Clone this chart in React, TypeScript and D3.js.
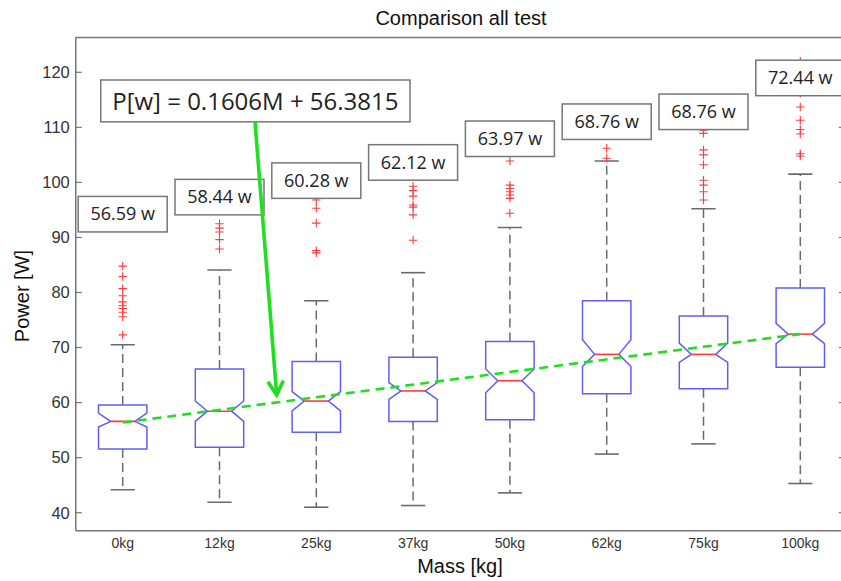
import React from 'react';
import * as d3 from 'd3';

// ---------- data ----------
const categories = ['0kg', '12kg', '25kg', '37kg', '50kg', '62kg', '75kg', '100kg'];
const masses = [0, 12, 25, 37, 50, 62, 75, 100];
const medians = [56.59, 58.44, 60.28, 62.12, 63.97, 68.76, 68.76, 72.44];
const q1 = [51.56, 51.9, 54.6, 56.57, 56.9, 61.6, 62.5, 66.4];
const q3 = [59.55, 66.1, 67.46, 68.25, 71.1, 78.5, 75.75, 80.8];
const notchLo = [55.55, 56.6, 58.5, 60.6, 61.8, 66.55, 67.3, 70.7];
const notchHi = [58.1, 60.3, 62.0, 63.65, 66.1, 71.4, 70.8, 74.4];
const whiskerLo = [44.17, 41.9, 41.0, 41.3, 43.6, 50.65, 52.5, 45.3];
const whiskerHi = [70.5, 84.1, 78.5, 83.6, 91.8, 103.9, 95.2, 101.5];
const outliers0 = [84.8, 82.9, 80.7, 79.4, 78.3, 77.6, 77.1, 76.4, 75.6, 72.3];
const outliers12 = [92.5, 91.7, 91.0, 89.6, 87.9];
const outliers25 = [97.6, 96.8, 95.3, 92.6, 87.6, 87.2];
const outliers37 = [99.3, 98.5, 97.5, 95.9, 95.5, 94.1, 89.5];
const outliers50 = [103.9, 99.5, 98.9, 98.3, 97.7, 97.1, 94.4];
const outliers62 = [106.2, 104.4];
const outliers75 = [109.5, 108.9, 105.9, 105.0, 103.2, 100.4, 99.5, 98.3, 96.8];
const outliers100 = [122.0, 116.2, 113.7, 111.3, 109.6, 108.8, 105.2, 104.8];
const outliers = [outliers0, outliers12, outliers25, outliers37, outliers50, outliers62, outliers75, outliers100];
const labelTexts = ['56.59 w', '58.44 w', '60.28 w', '62.12 w', '63.97 w', '68.76 w', '68.76 w', '72.44 w'];
const fitSlope = 0.1606;
const fitIntercept = 56.3815;
const equationText = 'P[w] = 0.1606M + 56.3815';
const yTicks = [40, 50, 60, 70, 80, 90, 100, 110, 120];

// ---------- annotation placement (data units) ----------
const labelBottom = [91.0, 94.1, 97.1, 100.4, 104.7, 107.8, 109.6, 115.75];
const eqBox = { x0: 0.773, x1: 3.968, y0: 111.0, y1: 118.6 };
const arrow = { x0: 2.367, y0: 111.0, x1: 2.591, y1: 61.38 };

const W = 841;
const H = 581;
const xlim = [0.515, 8.46];
const ylim = [36.7, 126.3];

export default function App() {
  const x = d3.scaleLinear().domain([1, 8]).range([122.7, 800.3]);
  const y = d3.scaleLinear().domain([40, 120]).range([512.7, 72.3]);
  const left = x(xlim[0]);
  const right = x(xlim[1]);
  const top = y(ylim[1]);
  const bottom = y(ylim[0]);
  const halfW = (x(1.25) - x(1));
  const innerW = halfW / 2;
  const capW = halfW / 2;

  const boxBlue = '#5f5ff2';
  const red = '#ff3b3b';
  const gray = '#6a6a6a';
  const green = '#1fe01f';
  const sans = '"Liberation Sans", Arial, sans-serif';
  const labelFont = '"Open Sans", "DejaVu Sans", sans-serif';

  const boxes = categories.map((c, i) => {
    const cx = x(i + 1);
    const l = cx - halfW;
    const r = cx + halfW;
    const pts: [number, number][] = [
      [l, y(q3[i])], [r, y(q3[i])], [r, y(notchHi[i])], [cx + innerW, y(medians[i])],
      [r, y(notchLo[i])], [r, y(q1[i])], [l, y(q1[i])], [l, y(notchLo[i])],
      [cx - innerW, y(medians[i])], [l, y(notchHi[i])],
    ];
    const path = d3.line()(pts) + 'Z';
    return { cx, path, i };
  });

  // arrow geometry
  const ax0 = x(arrow.x0), ay0 = y(arrow.y0), ax1 = x(arrow.x1), ay1 = y(arrow.y1);
  const ang = Math.atan2(ay1 - ay0, ax1 - ax0);
  const headLen = 16;
  const headAng = Math.PI / 6.2;
  const hA: [number, number] = [ax1 - headLen * Math.cos(ang - headAng), ay1 - headLen * Math.sin(ang - headAng)];
  const hB: [number, number] = [ax1 - headLen * Math.cos(ang + headAng), ay1 - headLen * Math.sin(ang + headAng)];

  const plus = 4.2;

  return (
    <svg width={W} height={H} style={{ position: 'absolute', left: 0, top: 0, background: '#fff' }}>
      <rect x={0} y={0} width={W} height={H} fill="#fff" />
      <clipPath id="plotclip">
        <rect x={left} y={top} width={right - left} height={bottom - top} />
      </clipPath>

      {/* title */}
      <text x={461} y={25} textAnchor="middle" fontFamily={sans} fontSize={20} fill="#111">Comparison all test</text>

      {/* axes frame */}
      <line x1={left} x2={left} y1={top} y2={bottom} stroke="#777" strokeWidth={1.5} />
      <line x1={left} x2={right} y1={bottom} y2={bottom} stroke="#777" strokeWidth={1.5} />
      <line x1={left} x2={right} y1={top} y2={top} stroke="#777" strokeWidth={1.5} />
      <line x1={right} x2={right} y1={top} y2={bottom} stroke="#777" strokeWidth={1.5} />

      {yTicks.map(t => (
        <g key={t}>
          <line x1={left} x2={left + 6} y1={y(t)} y2={y(t)} stroke="#777" strokeWidth={1.2} />
          <line x1={right - 6} x2={right} y1={y(t)} y2={y(t)} stroke="#777" strokeWidth={1.2} />
          <text x={left - 6} y={y(t) + 5.8} textAnchor="end" fontFamily={sans} fontSize={16.5} fill="#333">{t}</text>
        </g>
      ))}

      {categories.map((c, i) => (
        <text key={c} x={x(i + 1)} y={548} textAnchor="middle" fontFamily={sans} fontSize={14} fill="#333">{c}</text>
      ))}

      <text x={460} y={573} textAnchor="middle" fontFamily={sans} fontSize={20} fill="#111">Mass [kg]</text>
      <text transform={`translate(29,296) rotate(-90)`} textAnchor="middle" fontFamily={sans} fontSize={20} fill="#111">Power [W]</text>

      <g clipPath="url(#plotclip)">
        {/* whiskers */}
        {boxes.map(({ cx, i }) => (
          <g key={'w' + i}>
            <line x1={cx} x2={cx} y1={y(q3[i])} y2={y(whiskerHi[i])} stroke={gray} strokeWidth={1.5} strokeDasharray="9 5" />
            <line x1={cx} x2={cx} y1={y(q1[i])} y2={y(whiskerLo[i])} stroke={gray} strokeWidth={1.5} strokeDasharray="9 5" />
            <line x1={cx - capW} x2={cx + capW} y1={y(whiskerHi[i])} y2={y(whiskerHi[i])} stroke={gray} strokeWidth={1.6} />
            <line x1={cx - capW} x2={cx + capW} y1={y(whiskerLo[i])} y2={y(whiskerLo[i])} stroke={gray} strokeWidth={1.6} />
          </g>
        ))}
        {/* boxes */}
        {boxes.map(({ cx, path, i }) => (
          <g key={'b' + i}>
            <path d={path} fill="none" stroke={boxBlue} strokeWidth={1.5} />
            <line x1={cx - innerW} x2={cx + innerW} y1={y(medians[i])} y2={y(medians[i])} stroke={red} strokeWidth={1.6} />
          </g>
        ))}
        {/* outliers */}
        {outliers.map((arr, i) => arr.map((v, k) => (
          <g key={'o' + i + '-' + k} stroke={red} strokeWidth={1.1}>
            <line x1={x(i + 1) - plus} x2={x(i + 1) + plus} y1={y(v)} y2={y(v)} />
            <line x1={x(i + 1)} x2={x(i + 1)} y1={y(v) - plus} y2={y(v) + plus} />
          </g>
        )))}

        {/* fit line */}
        <line x1={x(1)} y1={y(fitIntercept + fitSlope * masses[0])} x2={x(8)} y2={y(fitIntercept + fitSlope * masses[7])}
          stroke={green} strokeWidth={2.6} strokeDasharray="9 6" />

        {/* median labels */}
        {labelTexts.map((t, i) => {
          const cx = x(i + 1);
          const by = y(labelBottom[i]);
          return (
            <g key={'l' + i}>
              <rect x={cx - 44.5} y={by - 35.5} width={89} height={35.5} fill="#fff" stroke="#777" strokeWidth={1.5} />
              <text x={cx} y={by - 11.5} textAnchor="middle" fontFamily={labelFont} fontSize={18} fill="#222">{t}</text>
            </g>
          );
        })}

        {/* equation box */}
        <rect x={x(eqBox.x0)} y={y(eqBox.y1)} width={x(eqBox.x1) - x(eqBox.x0)} height={y(eqBox.y0) - y(eqBox.y1)}
          fill="#fff" stroke="#777" strokeWidth={1.5} />
        <text x={(x(eqBox.x0) + x(eqBox.x1)) / 2} y={110} textAnchor="middle" fontFamily={labelFont} fontSize={24} fill="#222">{equationText}</text>

        {/* arrow */}
        <line x1={ax0} y1={ay0} x2={ax1} y2={ay1} stroke={green} strokeWidth={3.6} />
        <polyline points={[hA, [ax1, ay1], hB].map(p => p.join(',')).join(' ')} fill="none" stroke={green} strokeWidth={3.6} strokeLinejoin="miter" />
      </g>
    </svg>
  );
}
